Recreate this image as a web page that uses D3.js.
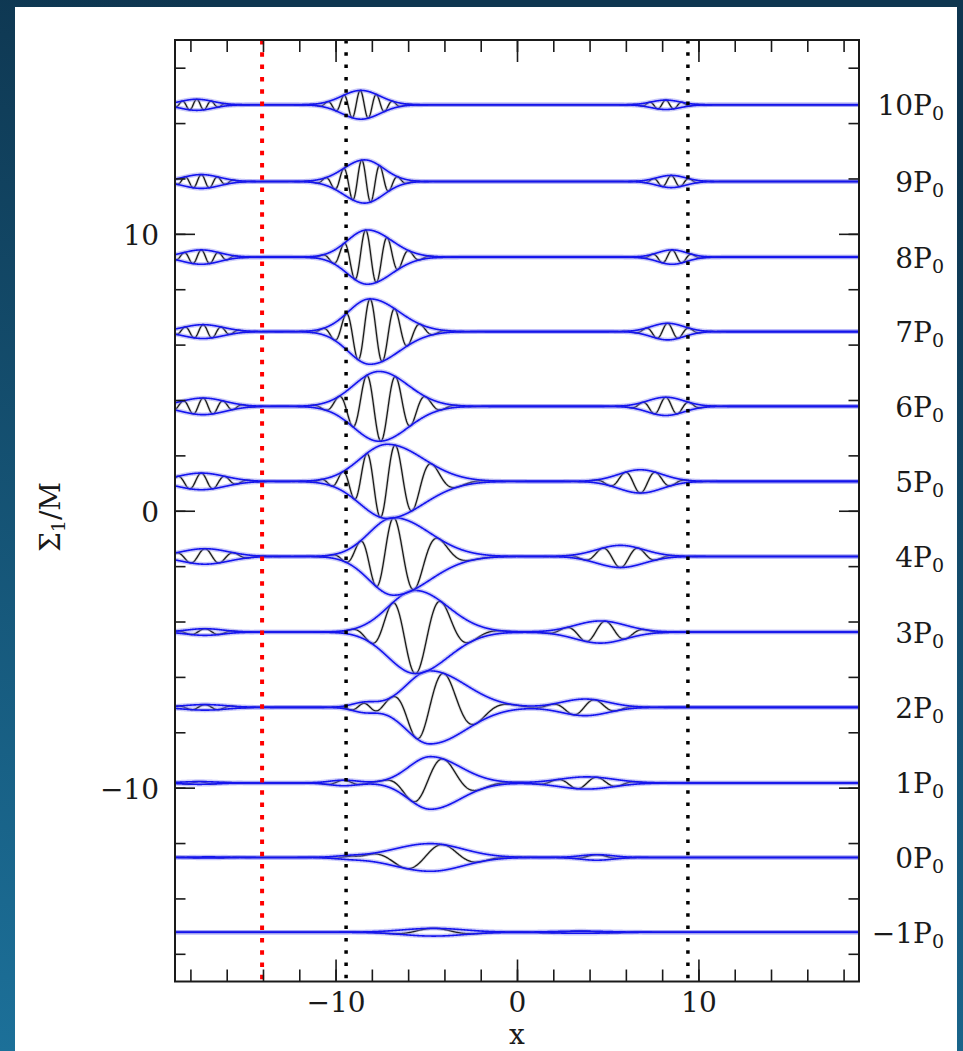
<!DOCTYPE html>
<html><head><meta charset="utf-8">
<script src="https://cdn.jsdelivr.net/npm/d3@7"></script>
<style>html,body{margin:0;padding:0;background:#123f58;} svg{display:block}</style>
</head><body>
<svg id="chart" width="963" height="1051"></svg>
<script>
// ---------------- data ----------------
const periods    = [-1, 0, 1, 2, 3, 4, 5, 6, 7, 8, 9, 10];
const rowOffsets = [-15.22, -12.52, -9.83, -7.10, -4.38, -1.65, 1.06, 3.77, 6.47, 9.16, 11.89, 14.66];

// main wave packet of each row
const mainCenter     = [-4.6, -4.77, -4.77, -4.8, -5.6, -6.8, -7.15, -7.6, -8.1, -8.25, -8.4, -8.6];
const mainAmp        = [0.14, 0.5, 0.95, 1.32, 1.5, 1.4, 1.34, 1.26, 1.18, 0.98, 0.78, 0.52];
const mainSigmaL     = [1.7, 2.0, 1.2, 1.3, 1.5, 1.35, 1.5, 1.4, 1.2, 1.1, 1.15, 1.05];
const mainSigmaR     = [1.7, 1.8, 1.65, 2.0, 1.8, 2.0, 2.0, 1.6, 1.6, 1.35, 1.05, 1.05];
const mainWavelength = [5.0, 4.2, 3.7, 3.1, 2.73, 2.1, 1.65, 1.6, 1.35, 1.2, 1.0, 0.9];
const mainChirp      = [0, 0, -0.05, -0.08, -0.09, -0.2, -0.25, -0.05, -0.05, 0, 0, 0];
const mainPhase      = [0, -1.09, -1.24, -1.54, 3.14, 0, -1.62, 2.75, 0, 0.5, 1.0, 0.3];

// packet travelling on the right
const rightCenter     = [3.5, 4.4, 3.85, 3.75, 4.6, 5.7, 6.8, 8.2, 8.3, 8.55, 8.5, 8.2];
const rightAmp        = [0.04, 0.1, 0.22, 0.3, 0.4, 0.4, 0.42, 0.33, 0.3, 0.26, 0.22, 0.17];
const rightSigma      = [1.5, 0.9, 1.5, 1.3, 1.4, 1.3, 1.2, 1.0, 0.9, 0.8, 0.8, 0.8];
const rightWavelength = [4, 3, 2.2, 2.4, 2.2, 2.0, 1.7, 1.3, 1.2, 1.1, 1.0, 0.9];
const rightPhase      = [0, 0, -1.6, -1.44, -0.8, 3.14, 3.14, 0, 0, 0, 0, 0];

// packet near the left edge
const leftCenter     = [-17, -17, -17.5, -17.2, -17.2, -17.2, -17.4, -17.3, -17.3, -17.4, -17.4, -17.65];
const leftAmp        = [0, 0.02, 0.05, 0.1, 0.12, 0.28, 0.3, 0.3, 0.25, 0.26, 0.25, 0.2];
const leftSigma      = [1, 1, 1, 1.2, 1.0, 1.3, 1.3, 1.2, 1.1, 1.0, 1.0, 0.9];
const leftWavelength = [1.5, 1.5, 1.5, 1.5, 1.6, 1.6, 1.3, 1.1, 1.0, 0.95, 0.9, 0.8];

// small secondary packet near x = -9
const auxCenter     = [-9.3, -9.3, -9.55, -8.4, -9, -9, -9, -9, -9, -9, -9, -9];
const auxAmp        = [0, 0.04, 0.1, 0.17, 0, 0, 0, 0, 0, 0, 0, 0];
const auxSigma      = [0.8, 0.8, 0.8, 0.7, 1, 1, 1, 1, 1, 1, 1, 1];
const auxWavelength = [2, 2, 2, 1.6, 1, 1, 1, 1, 1, 1, 1, 1];

const blackDottedX = [-9.42, 9.42];
const redDottedX   = [-14.05];

const xTicksMinor = d3.range(-18, 19, 2);
const xTicksMajor = [-10, 0, 10];
const yTicksMinor = d3.range(-16, 17, 2);
const yTicksMajor = [-10, 0, 10];

// ---------------- drawing ----------------
const W = 963, H = 1051;
const svg = d3.select("#chart");
const FONT = "'DejaVu Serif', 'Liberation Serif', serif";
const FS = 28;

const defs = svg.append("defs");
const bg = defs.append("linearGradient").attr("id", "bg")
  .attr("x1", 0.2).attr("y1", 0).attr("x2", 0).attr("y2", 1);
bg.append("stop").attr("offset", 0).attr("stop-color", "#0e3650");
bg.append("stop").attr("offset", 1).attr("stop-color", "#1c7099");
svg.append("rect").attr("width", W).attr("height", H).attr("fill", "url(#bg)");
svg.append("rect").attr("x", 15).attr("y", 7).attr("width", 942).attr("height", H - 7).attr("fill", "#ffffff");

const x = d3.scaleLinear().domain([-6 * Math.PI, 6 * Math.PI]).range([175, 859]);
const y = d3.scaleLinear().domain([-17, 17]).range([981.5, 40]);

defs.append("clipPath").attr("id", "plotclip").append("rect")
  .attr("x", 175).attr("y", 40).attr("width", 684).attr("height", 941.5);

const plot = svg.append("g").attr("clip-path", "url(#plotclip)");

function packetsFor(i) {
  return [
    {c: mainCenter[i], A: mainAmp[i], sL: mainSigmaL[i], sR: mainSigmaR[i], lam: mainWavelength[i], ch: mainChirp[i], ph: mainPhase[i]},
    {c: rightCenter[i], A: rightAmp[i], sL: rightSigma[i], sR: rightSigma[i], lam: rightWavelength[i], ch: 0, ph: rightPhase[i]},
    {c: leftCenter[i], A: leftAmp[i], sL: leftSigma[i], sR: leftSigma[i], lam: leftWavelength[i], ch: 0, ph: 0},
    {c: auxCenter[i], A: auxAmp[i], sL: auxSigma[i], sR: auxSigma[i], lam: auxWavelength[i], ch: 0, ph: 0}
  ];
}

const xs = d3.range(x.domain()[0], x.domain()[1] + 0.01, 0.02);
const line = d3.line().x(d => x(d[0])).y(d => y(d[1])).curve(d3.curveLinear);

periods.forEach((p, i) => {
  const base = rowOffsets[i];
  const pk = packetsFor(i);
  const env = [], wave = [];
  xs.forEach(xv => {
    let e = 0, w = 0;
    pk.forEach(k => {
      if (k.A <= 0) return;
      const d = xv - k.c;
      const s = d < 0 ? k.sL : k.sR;
      const g = k.A * Math.exp(-d * d / (2 * s * s));
      const th = 2 * Math.PI * d / k.lam + k.ch * d * d + k.ph;
      e += g; w += g * Math.cos(th);
    });
    env.push(e); wave.push(w);
  });
  const upper = xs.map((xv, j) => [xv, base + env[j]]);
  const lower = xs.map((xv, j) => [xv, base - env[j]]);
  const wv = xs.map((xv, j) => [xv, base + wave[j]]);

  const g = plot.append("g");
  g.append("path").attr("d", line(wv)).attr("fill", "none")
    .attr("stroke", "#999").attr("stroke-opacity", 0.35).attr("stroke-width", 3);
  g.append("path").attr("d", line(wv)).attr("fill", "none")
    .attr("stroke", "#1a1a1a").attr("stroke-width", 1.3);
  [upper, lower].forEach(c => {
    g.append("path").attr("d", line(c)).attr("fill", "none")
      .attr("stroke", "#7a7af2").attr("stroke-opacity", 0.4).attr("stroke-width", 4.5);
  });
  [upper, lower].forEach(c => {
    g.append("path").attr("d", line(c)).attr("fill", "none")
      .attr("stroke", "#1414ee").attr("stroke-width", 1.6);
  });
});

// dotted verticals
plot.selectAll("line.bd").data(blackDottedX).enter().append("line")
  .attr("x1", d => x(d)).attr("x2", d => x(d)).attr("y1", 40).attr("y2", 981)
  .attr("stroke", "#000").attr("stroke-width", 3.5).attr("stroke-dasharray", "3.5 8.8");
plot.selectAll("line.rd").data(redDottedX).enter().append("line")
  .attr("x1", d => x(d)).attr("x2", d => x(d)).attr("y1", 40).attr("y2", 981)
  .attr("stroke", "#ff0000").attr("stroke-width", 4).attr("stroke-dasharray", "4.5 7.8");

// axes (ticks inward)
function styleAxis(sel) {
  sel.select(".domain").remove();
  sel.selectAll(".tick line").attr("stroke", "#1a1a1a").attr("stroke-width", 1.6);
  sel.selectAll("text").attr("font-family", FONT).attr("font-size", FS).attr("fill", "#1a1a1a");
}
const fmt = d => d < 0 ? "\u2212" + Math.abs(d) : String(d);

svg.append("g").attr("transform", "translate(0,981.5)")
  .call(d3.axisBottom(x).tickValues(xTicksMinor).tickSize(-12).tickFormat(""))
  .call(styleAxis);
svg.append("g").attr("transform", "translate(0,981.5)")
  .call(d3.axisBottom(x).tickValues(xTicksMajor).tickSize(-22).tickPadding(11).tickFormat(fmt))
  .call(styleAxis);
svg.append("g").attr("transform", "translate(0,40)")
  .call(d3.axisTop(x).tickValues(xTicksMinor).tickSize(-12).tickFormat(""))
  .call(styleAxis);
svg.append("g").attr("transform", "translate(0,40)")
  .call(d3.axisTop(x).tickValues(xTicksMajor).tickSize(-22).tickFormat(""))
  .call(styleAxis);
svg.append("g").attr("transform", "translate(175,0)")
  .call(d3.axisLeft(y).tickValues(yTicksMinor).tickSize(-10.5).tickFormat(""))
  .call(styleAxis);
const yMaj = svg.append("g").attr("transform", "translate(175,0)")
  .call(d3.axisLeft(y).tickValues(yTicksMajor).tickSize(-20).tickPadding(16).tickFormat(fmt))
  .call(styleAxis);
yMaj.selectAll("text").attr("dy", "0.37em");
svg.append("g").attr("transform", "translate(859,0)")
  .call(d3.axisRight(y).tickValues(yTicksMinor).tickSize(-10.5).tickFormat(""))
  .call(styleAxis);
svg.append("g").attr("transform", "translate(859,0)")
  .call(d3.axisRight(y).tickValues(yTicksMajor).tickSize(-20).tickFormat(""))
  .call(styleAxis);

// frame
svg.append("rect").attr("x", 175).attr("y", 40).attr("width", 684).attr("height", 941.5)
  .attr("fill", "none").attr("stroke", "#1a1a1a").attr("stroke-width", 2);

// row labels
periods.forEach((p, i) => {
  const t = svg.append("text").attr("x", 944).attr("y", y(rowOffsets[i]) + 10.5)
    .attr("text-anchor", "end").attr("font-family", FONT).attr("font-size", FS).attr("fill", "#1a1a1a");
  t.append("tspan").text(fmt(p) + "P");
  t.append("tspan").attr("dy", 5).attr("font-size", 19).text("0");
});

// axis titles
svg.append("text").attr("x", x(0)).attr("y", 1044).attr("text-anchor", "middle")
  .attr("font-family", FONT).attr("font-size", FS).attr("fill", "#1a1a1a").text("x");
const yl = svg.append("text").attr("transform", "translate(60,517) rotate(-90)")
  .attr("text-anchor", "middle").attr("font-family", FONT).attr("font-size", 28).attr("fill", "#1a1a1a");
yl.append("tspan").text("\u03A3");
yl.append("tspan").attr("dy", 5).attr("font-size", 19).text("1");
yl.append("tspan").attr("dy", -5).text("/M");
</script>
</body></html>
